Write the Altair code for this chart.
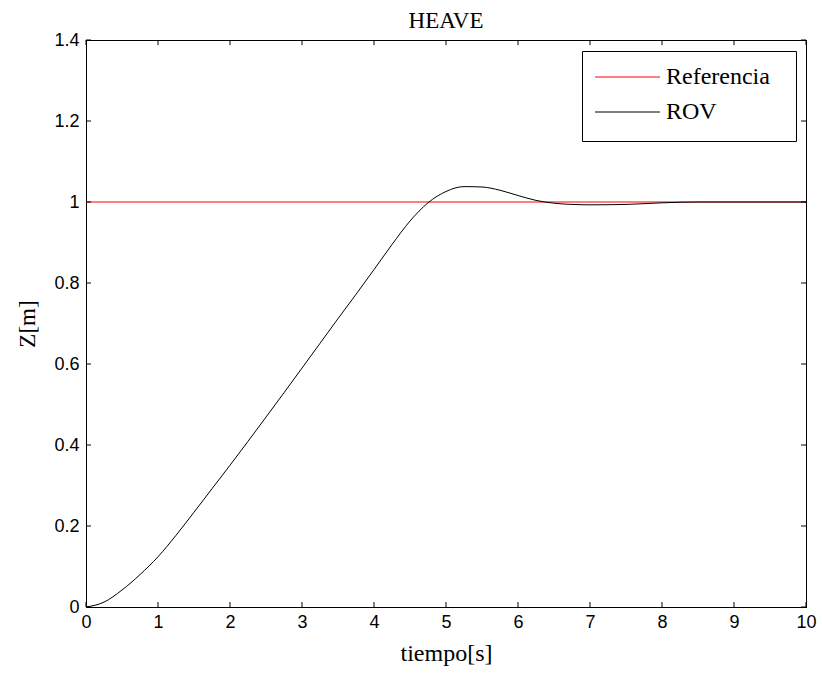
import altair as alt
import pandas as pd

# ROV heave response
t_rov = [0, 0.25, 0.5, 0.75, 1, 1.25, 1.5, 1.75, 2, 2.25, 2.5, 2.75, 3, 3.25,
         3.5, 3.75, 4, 4.25, 4.5, 4.75, 5, 5.25, 5.5, 5.75, 6, 6.25, 6.5,
         6.75, 7, 7.5, 8, 8.5, 9, 10]
z_rov = [0, 0.012, 0.042, 0.08, 0.124, 0.177, 0.234, 0.292, 0.35, 0.409,
         0.469, 0.529, 0.59, 0.651, 0.712, 0.772, 0.833, 0.895, 0.953, 0.998,
         1.026, 1.038, 1.037, 1.029, 1.016, 1.004, 0.997, 0.994, 0.993,
         0.994, 0.998, 1.0, 1.0, 1.0]
t_ref = [0, 10]
z_ref = [1, 1]
series = ["Referencia", "ROV"]
colors = ["#ff0000", "#000000"]
x_ticks = [0, 1, 2, 3, 4, 5, 6, 7, 8, 9, 10]
y_ticks = [0, 0.2, 0.4, 0.6, 0.8, 1.0, 1.2, 1.4]

W, H = 720, 567
SERIF = "Liberation Serif"
SANS = "Liberation Sans"

xs = alt.Scale(domain=[0, 10], nice=False, zero=False)
ys = alt.Scale(domain=[0, 1.4], nice=False, zero=False)

x_axis = alt.Axis(values=x_ticks, ticks=False, domain=True, domainColor="black",
                  grid=False,
                  title="tiempo[s]", titleFont=SERIF, titleFontSize=24,
                  titleFontWeight="normal", titleColor="black", titlePadding=10,
                  labelFont=SANS, labelFontSize=18, labelColor="black",
                  labelPadding=6, format="d", labelFlush=False)
y_axis = alt.Axis(values=y_ticks, ticks=False, domain=True, domainColor="black",
                  grid=False,
                  title="Z[m]", titleFont=SERIF, titleFontSize=23,
                  titleFontWeight="normal", titleColor="black", titlePadding=14,
                  labelFont=SANS, labelFontSize=18, labelColor="black",
                  labelPadding=7, format="~g", labelFlush=False)

df_ref = pd.DataFrame({"t": t_ref, "z": z_ref})
df_rov = pd.DataFrame({"t": t_rov, "z": z_rov})
df_xt = pd.DataFrame({"t": x_ticks})
df_yt = pd.DataFrame({"z": y_ticks})

ref_line = alt.Chart(df_ref).mark_line(color=colors[0], strokeWidth=1).encode(
    x=alt.X("t:Q", scale=xs, axis=x_axis), y=alt.Y("z:Q", scale=ys, axis=y_axis))
rov_line = alt.Chart(df_rov).mark_line(color=colors[1], strokeWidth=1,
                                       interpolate="monotone").encode(
    x=alt.X("t:Q", scale=xs, axis=x_axis), y=alt.Y("z:Q", scale=ys, axis=y_axis))

tick_len = 5
xt_bottom = alt.Chart(df_xt).mark_rule(color="black", strokeWidth=1).encode(
    x=alt.X("t:Q", scale=xs, axis=x_axis), y=alt.value(H), y2=alt.value(H - tick_len))
xt_top = alt.Chart(df_xt).mark_rule(color="black", strokeWidth=1).encode(
    x=alt.X("t:Q", scale=xs, axis=x_axis), y=alt.value(0), y2=alt.value(tick_len))
yt_left = alt.Chart(df_yt).mark_rule(color="black", strokeWidth=1).encode(
    y=alt.Y("z:Q", scale=ys, axis=y_axis), x=alt.value(0), x2=alt.value(tick_len))
yt_right = alt.Chart(df_yt).mark_rule(color="black", strokeWidth=1).encode(
    y=alt.Y("z:Q", scale=ys, axis=y_axis), x=alt.value(W), x2=alt.value(W - tick_len))

# frame (top and right edges)
df_one = pd.DataFrame({"k": [0]})
frame_top = alt.Chart(df_one).mark_rule(color="black", strokeWidth=1).encode(
    x=alt.value(0), x2=alt.value(W + 1), y=alt.value(0.5))
frame_right = alt.Chart(df_one).mark_rule(color="black", strokeWidth=1).encode(
    x=alt.value(W + 0.5), y=alt.value(0), y2=alt.value(H + 1))

# legend box (decoration)
leg_box = alt.Chart(df_one).mark_rect(fill="white", stroke="black", strokeWidth=1).encode(
    x=alt.value(496.5), x2=alt.value(710.5), y=alt.value(11.5), y2=alt.value(101.5))
leg_layers = [leg_box]
row_y = [37, 72]
for name, col, yy in zip(series, colors, row_y):
    d = pd.DataFrame({"serie": [name]})
    leg_layers.append(alt.Chart(d).mark_rule(color=col, strokeWidth=1).encode(
        x=alt.value(509), x2=alt.value(574), y=alt.value(yy)))
    leg_layers.append(alt.Chart(d).mark_text(align="left", baseline="middle",
                                             font=SERIF, fontSize=24, color="black").encode(
        x=alt.value(580), y=alt.value(yy), text="serie:N"))

chart = alt.layer(ref_line, rov_line, xt_bottom, xt_top, yt_left, yt_right,
                  frame_top, frame_right, *leg_layers).properties(
    width=W, height=H,
    title=alt.TitleParams("HEAVE", font=SERIF, fontSize=23, fontWeight="normal",
                          color="black", anchor="middle", offset=-2),
    autosize=alt.AutoSizeParams(type="none"),
    padding={"left": 86, "top": 40, "right": 16, "bottom": 68},
).configure_view(stroke=None).configure(background="white")

chart.save("out.html", embed_options={"renderer": "svg", "actions": False})
